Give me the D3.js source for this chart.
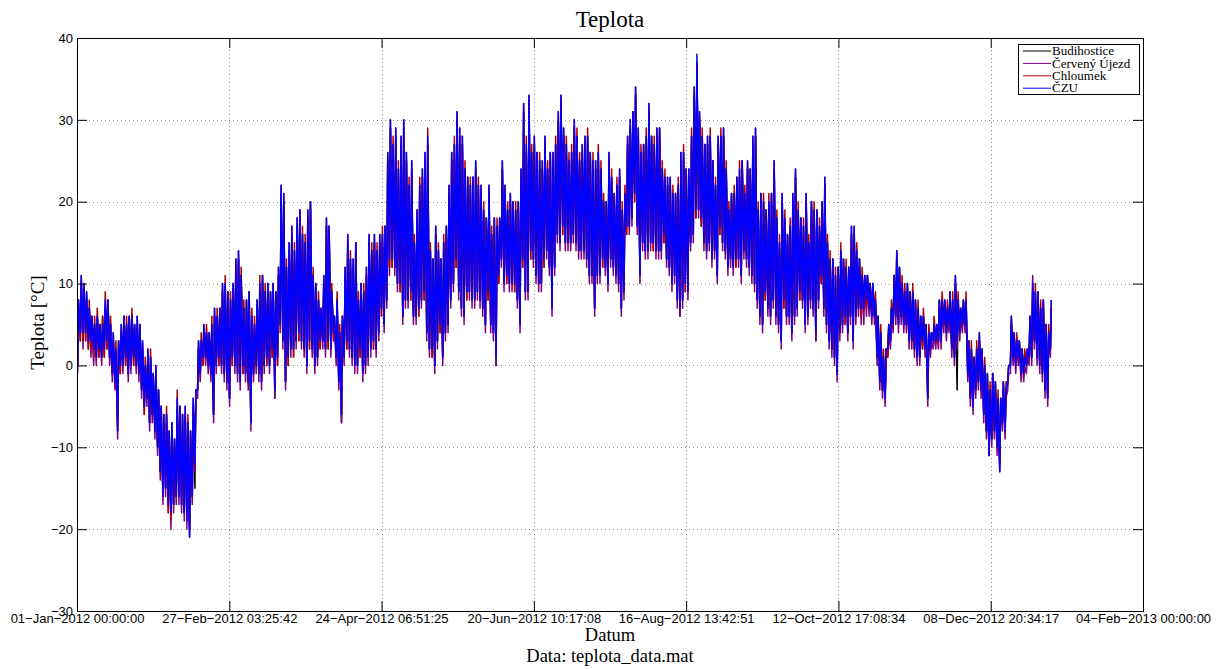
<!DOCTYPE html>
<html>
<head>
<meta charset="utf-8">
<script src="https://cdn.jsdelivr.net/npm/d3@7"></script>
<style>
body { margin: 0; background: #fff; }
svg { display: block; }
</style>
</head>
<body>
<svg></svg>
<script>
var width = 1219, height = 669;
var margin = { top: 38, right: 76, bottom: 58, left: 77 };
var innerWidth = width - margin.left - margin.right;
var innerHeight = height - margin.top - margin.bottom;

var stations = ['Budihostice', 'Červený Újezd', 'Chloumek', 'ČZU'];
var colors = ['#000000', '#7f007f', '#b00000', '#0000ff'];

var xTickLabels = ['01-Jan-2012 00:00:00', '27-Feb-2012 03:25:42', '24-Apr-2012 06:51:25',
  '20-Jun-2012 10:17:08', '16-Aug-2012 13:42:51', '12-Oct-2012 17:08:34',
  '08-Dec-2012 20:34:17', '04-Feb-2013 00:00:00'];
var yTicks = [-30, -20, -10, 0, 10, 20, 30, 40];

// daily max / min, day 0 = 1 Jan 2012
var budMax = [7,10,9,8,7,6,5,6,5,6, 7,8,5,3,2,3,4,6,5,6, 6,5,5,5,2,0,1,1,-1,-1,
  -3,-5,-7,-6,-8,-8,-9,-5,-5,-6, -6,-7,-8,-5,-3,2,3,4,4,4, 5,6,6,7,9,10,9,8,10,12,
  13,11,7,8,9,6,5,8,9,11, 9,10,9,10,9,11,21,20,12,14, 16,14,17,19,16,15,18,20,11,10,
  8,7,10,17,17,9,6,8,4,6, 11,15,13,12,15,8,10,9,11,15, 14,15,14,15,16,17,25,29,27,28,
  24,27,29,25,22,24,15,18,22,23, 25,27,14,13,16,14,13,15,17,21, 25,27,30,28,27,24,23,22,23,24,
  22,21,19,18,21,16,18,17,18,24, 21,19,20,20,19,20,23,31,26,32, 26,27,26,25,24,27,24,26,25,27,
  30,32,28,27,25,26,29,28,25,26, 27,28,26,25,24,26,24,20,20,25, 23,21,22,23,19,21,27,29,31,33,
  28,26,27,28,31,28,27,28,29,24, 23,22,22,21,21,22,25,26,24,23, 28,33,36,30,28,27,27,28,25,22,
  27,28,28,24,19,21,21,23,23,25, 21,24,24,27,28,19,21,20,19,20, 21,24,18,15,20,18,16,17,20,23,
  19,18,17,20,15,20,19,19,17,20, 22,15,13,13,11,12,14,13,12,12, 16,16,14,13,11,11,11,10,10,8,
  6,4,1,2,5,7,11,13,12,10, 9,10,9,9,8,7,6,6,5,4, 4,5,5,8,8,8,7,9,8,10,
  8,7,8,8,3,2,1,2,3,2, 0,-1,-3,-1,-2,-4,-4,-2,-3,0, 5,4,3,3,2,1,2,6,9,9, 9,7,8,5,4,7];
var budMin = [0,4,3,4,3,3,2,1,2,1, 2,3,1,-1,-2,-7,0,0,1,-1, 0,1,0,-1,-3,-5,-4,-7,-6,-8,
  -10,-13,-16,-15,-17,-18,-17,-16,-16,-17, -18,-19,-20,-16,-15,-3,-1,1,1,0, -1,-6,0,1,0,-1,-2,-4,1,0,
  -1,-2,0,-1,-2,-7,-1,0,-1,-2, 0,1,0,2,-4,1,5,3,-2,1, 2,2,3,4,3,2,0,3,2,0,
  1,3,3,2,3,2,4,1,-2,-7, 1,3,2,1,0,0,2,-1,0,1, 2,3,2,4,7,5,8,12,13,12,
  10,10,6,8,8,9,6,6,7,8, 9,4,2,2,0,3,5,1,4,5, 8,10,13,9,7,6,9,9,8,8,
  9,8,7,5,9,5,4,0,11,13, 10,11,10,10,10,8,5,13,9,9, 14,13,11,10,10,13,14,12,7,12,
  16,15,17,15,15,15,16,15,14,14, 14,13,11,11,7,11,11,13,12,10, 13,12,11,10,7,9,17,17,18,21,
  17,11,15,14,14,15,15,14,14,14, 16,13,12,10,11,8,6,8,10,9, 15,16,19,19,18,15,14,15,13,14,
  11,17,15,14,12,13,12,13,13,11, 14,13,12,11,10,8,6,5,9,7, 6,8,6,5,3,8,6,6,4,6,
  7,9,8,5,6,8,7,3,8,11, 7,5,3,2,1,-1,4,5,6,4, 6,3,6,7,7,7,8,7,6,6,
  1,-2,-3,-4,2,3,5,6,5,6, 5,5,3,3,2,1,1,3,2,-4, 2,3,3,3,3,5,4,5,2,1,
  -3,4,5,5,-1,-4,-5,-3,-2,-3, -6,-8,-11,-9,-8,-10,-12,-7,-8,-2, 0,1,0,1,-1,-1,0,1,1,3, 1,0,-1,-3,-4,2];

var cuMax = [7,10,9,8,6,5,4,5,5,4, 7,7,4,3,1,2,4,5,4,5, 5,4,5,4,2,-1,1,0,-2,-1,
  -4,-6,-7,-7,-9,-8,-10,-5,-6,-7, -6,-8,-9,-5,-4,2,2,4,3,3, 4,6,5,6,9,9,8,7,9,12,
  13,10,6,7,8,5,4,7,9,10, 8,9,8,9,8,11,21,20,11,14, 16,13,17,18,15,14,18,19,10,9,
  7,6,10,17,16,8,5,7,3,5, 11,15,12,12,14,7,9,8,11,15, 13,15,13,15,15,16,25,29,26,28,
  23,27,29,25,21,24,14,18,21,23, 25,27,13,12,16,13,12,14,16,21, 25,26,30,28,27,23,22,21,22,24,
  21,21,18,17,21,15,17,16,17,24, 21,18,20,19,18,19,23,31,26,32, 25,27,25,24,24,27,23,25,25,26,
  30,32,28,26,24,25,29,27,24,26, 27,27,25,24,24,25,23,19,19,25, 22,20,21,23,18,20,27,29,30,33,
  28,25,26,27,31,27,26,28,28,23, 22,22,22,20,20,21,25,25,23,23, 27,33,37,30,27,26,27,27,24,21,
  27,27,28,23,18,20,20,22,23,24, 20,24,23,27,28,18,20,19,18,19, 20,24,17,14,20,17,15,16,20,23,
  18,17,16,20,14,19,18,18,16,19, 22,14,12,12,10,11,13,12,11,11, 16,16,13,12,10,10,10,9,9,7,
  5,3,0,1,4,6,10,13,11,9, 8,9,8,8,7,6,5,5,4,3, 3,4,4,7,7,7,6,8,7,10,
  7,6,7,7,2,1,0,1,3,1, -1,-2,-4,-2,-3,-5,-5,-3,-4,-1, 5,3,2,2,1,0,1,5,11,8, 8,6,7,4,3,7];
var cuMin = [-1,3,2,3,2,1,0,0,1,0, 1,2,0,-2,-3,-9,-1,-1,0,-2, -1,0,-1,-2,-4,-6,-5,-8,-7,-9,
  -11,-14,-17,-16,-18,-20,-18,-17,-17,-18, -19,-20,-21,-17,-13,-4,-2,0,0,-1, -2,-7,-1,0,-1,-2,-3,-5,0,-1,
  -2,-3,-1,-2,-3,-8,-2,-1,-2,-3, -1,0,-1,1,-4,0,4,2,-3,0, 1,1,2,3,2,1,-1,2,1,-1,
  0,2,2,1,2,1,3,0,-3,-7, 0,2,1,0,-1,-1,1,-2,-1,0, 1,2,1,3,6,4,7,11,12,11,
  9,9,5,7,7,8,5,5,6,7, 8,3,1,1,-1,2,4,0,3,4, 7,9,12,8,6,5,8,8,7,7,
  8,7,6,4,8,4,3,0,10,12, 9,10,9,9,9,7,4,12,8,8, 13,12,10,9,9,12,13,11,6,11,
  15,14,16,14,14,14,15,14,13,13, 13,12,10,10,6,10,10,12,11,9, 12,11,10,9,6,8,16,16,17,20,
  16,10,14,13,13,14,14,13,13,13, 15,12,11,9,10,7,6,7,9,8, 14,15,18,18,17,14,13,14,12,13,
  10,16,14,13,11,12,11,12,12,10, 13,12,11,10,9,7,5,4,8,6, 5,7,5,4,2,7,5,5,3,5,
  6,8,7,4,5,7,6,3,7,10, 6,4,2,1,0,-2,3,4,5,3, 5,2,5,6,5,5,6,6,5,5,
  0,-3,-4,-5,1,2,4,5,4,5, 4,4,2,2,1,0,0,2,1,-5, 1,2,2,2,2,4,3,4,1,0,
  2,3,4,4,-2,-5,-6,-4,-3,-4, -7,-9,-11,-10,-9,-11,-13,-8,-9,-3, -1,0,-1,0,-2,-2,-1,0,0,2, 0,-1,-2,-4,-5,1];

var chlMax = [8,11,10,9,8,6,6,7,5,6, 9,8,6,4,3,3,5,6,6,6, 7,5,6,5,3,1,2,2,-1,0,
  -3,-5,-6,-5,-8,-7,-9,-3,-5,-6, -5,-6,-8,-4,-3,3,4,5,5,4, 6,7,7,7,10,11,9,9,10,13,
  14,12,8,8,9,7,6,8,11,11, 10,10,9,10,9,12,22,21,13,15, 17,15,18,19,17,16,19,20,12,10,
  9,7,11,18,17,10,6,9,5,6, 12,16,14,13,15,9,10,10,12,16, 15,16,15,16,17,17,26,30,28,29,
  25,28,30,26,23,25,16,19,23,24, 26,29,15,13,17,15,13,16,17,22, 26,28,31,29,28,25,23,23,23,25,
  23,22,20,18,22,17,18,18,18,25, 22,20,21,20,20,20,24,32,28,33, 27,28,26,26,25,28,25,26,26,28,
  31,33,29,28,26,27,30,29,26,27, 28,29,26,26,25,27,25,21,20,26, 24,21,23,24,20,22,28,30,31,34,
  29,27,27,29,32,28,28,29,29,25, 24,23,23,22,21,23,26,27,24,24, 29,34,37,31,29,27,28,29,25,23,
  28,29,29,25,20,21,22,23,25,25, 22,25,24,28,29,20,21,21,19,21, 21,25,19,16,21,19,16,18,21,24,
  20,18,18,21,16,20,20,19,18,20, 23,16,14,13,12,12,15,13,13,12, 17,17,15,13,12,11,11,10,10,9,
  6,5,2,2,5,8,11,14,12,11, 10,10,9,10,8,8,6,7,5,5, 4,6,5,8,9,8,8,9,9,11,
  9,7,8,9,3,3,1,3,4,2, 1,-1,-2,-1,-2,-3,-4,-2,-2,0, 6,4,4,3,2,2,2,6,10,10, 9,8,8,5,5,8];
var chlMin = [0,3,3,3,2,2,1,1,1,1, 1,2,1,-1,-2,-8,-1,0,0,-1, 0,0,0,-1,-3,-6,-4,-7,-6,-8,
  -10,-13,-16,-15,-18,-19,-17,-16,-16,-17, -18,-19,-20,-16,-12,-3,-1,0,1,0, -1,-6,0,0,0,-1,-2,-4,0,0,
  -1,-2,-1,-1,-2,-7,-1,0,-1,-2, 0,0,0,1,-3,0,5,3,-2,0, 2,1,3,3,3,2,0,2,2,0,
  1,2,3,2,2,2,3,1,-2,-6, 1,2,2,1,0,0,1,-1,0,1, 2,2,2,4,6,5,8,12,12,12,
  10,9,6,8,8,8,6,6,6,8, 8,4,2,1,0,3,4,1,4,5, 8,10,12,9,7,6,8,9,8,8,
  9,8,7,5,8,5,4,1,10,13, 10,10,10,10,9,8,5,12,9,9, 13,13,11,10,10,12,14,12,7,12,
  16,15,16,15,15,15,16,15,14,14, 14,13,11,11,7,11,11,12,12,10, 13,12,11,10,7,9,16,17,18,20,
  17,11,15,14,14,15,14,14,14,14, 15,13,12,10,11,8,7,8,9,9, 15,16,18,19,17,15,14,15,13,14,
  11,16,15,14,12,13,12,12,13,11, 14,13,12,11,10,8,6,5,8,7, 6,8,6,5,3,7,6,6,4,6,
  7,8,8,5,6,8,7,4,8,10, 7,5,3,2,1,-1,4,5,5,4, 6,3,6,7,6,7,7,7,6,6,
  1,-2,-3,-4,1,3,5,6,5,6, 5,5,3,3,2,1,1,2,2,-4, 2,3,3,3,3,5,4,5,2,1,
  3,4,5,5,-1,-4,-5,-3,-2,-3, -6,-8,-11,-9,-8,-10,-12,-7,-8,-2, 0,1,0,1,-1,-1,0,1,1,3, 1,0,-1,-3,-4,2];

var czuMax = [8,11,10,9,7,6,5,6,5,5, 8,8,5,4,2,3,5,6,5,6, 6,5,6,5,3,0,2,1,-1,0,
  -3,-5,-6,-6,-8,-7,-9,-4,-5,-6, -5,-7,-8,-4,-3,3,3,5,4,4, 5,7,6,7,10,10,9,8,10,13,
  14,11,7,8,9,6,5,8,10,11, 9,10,9,10,9,12,22,21,12,15, 17,14,18,19,16,15,19,20,11,10,
  8,7,11,18,17,9,6,8,4,6, 12,16,13,13,15,8,10,9,12,16, 14,16,14,16,16,17,26,30,27,29,
  24,28,30,26,22,25,15,19,22,24, 26,28,14,13,17,14,13,15,17,22, 26,27,31,29,28,24,23,22,23,25,
  22,22,19,18,22,16,18,17,18,25, 22,19,21,20,19,20,24,32,27,33, 26,28,26,25,25,28,24,26,26,27,
  31,33,29,27,25,26,30,28,25,27, 28,28,26,25,25,26,24,20,20,26, 23,21,22,24,19,21,28,30,31,34,
  29,26,27,28,32,28,27,29,29,24, 23,23,23,21,21,22,26,26,24,24, 28,34,38,31,28,27,28,28,25,22,
  28,28,29,24,19,21,21,23,24,25, 21,25,24,28,29,19,21,20,19,20, 21,25,18,15,21,18,16,17,21,24,
  19,18,17,21,15,20,19,19,17,20, 23,15,13,13,11,12,14,13,12,12, 17,17,14,13,11,11,11,10,10,8,
  6,4,1,2,5,7,11,14,12,10, 9,10,9,9,8,7,6,6,5,4, 4,5,5,8,8,8,7,9,8,11,
  8,7,8,8,3,2,1,2,4,2, 0,-1,-3,-1,-2,-4,-4,-2,-3,0, 6,4,3,3,2,1,2,6,10,9, 9,7,8,5,4,8];
var czuMin = [0,4,4,4,3,3,2,1,2,1, 2,3,1,-1,-2,-8,0,0,1,-1, 0,1,0,-1,-3,-5,-4,-7,-6,-8,
  -10,-13,-16,-15,-17,-18,-17,-16,-16,-17, -18,-19,-21,-16,-12,-3,-1,1,1,0, -1,-6,0,1,0,-1,-2,-4,1,0,
  -1,-2,0,-1,-2,-7,-1,0,-1,-2, 0,1,0,2,-3,1,5,3,-2,1, 2,2,3,4,3,2,0,3,2,0,
  1,3,3,2,3,2,4,1,-2,-6, 1,3,2,1,0,0,2,-1,0,1, 2,3,2,4,7,5,8,13,13,12,
  10,10,6,8,8,9,6,6,7,8, 9,4,2,2,0,3,5,1,4,5, 8,10,13,9,7,6,9,9,8,8,
  9,8,7,5,9,5,4,1,11,13, 10,11,10,10,10,8,5,13,9,9, 14,13,11,10,10,13,14,12,7,12,
  16,15,17,15,15,15,16,15,14,14, 14,13,11,11,7,11,11,13,12,10, 13,12,11,10,7,9,17,17,18,21,
  17,11,15,14,14,15,15,14,14,14, 16,13,12,10,11,8,7,8,10,9, 15,16,19,19,18,15,14,15,13,14,
  11,17,15,14,12,13,12,13,13,11, 14,13,12,11,10,8,6,5,9,7, 6,8,6,5,3,8,6,6,4,6,
  7,9,8,5,6,8,7,4,8,11, 7,5,3,2,1,-1,4,5,6,4, 6,3,6,7,7,7,8,7,6,6,
  1,-2,-3,-4,2,3,5,6,5,6, 5,5,3,3,2,1,1,3,2,-4, 2,3,3,3,3,5,4,5,2,1,
  3,4,5,5,-1,-4,-5,-3,-2,-3, -6,-8,-11,-9,-8,-10,-13,-7,-8,-2, 0,1,0,1,-1,-1,0,1,1,3, 1,0,-1,-3,-4,2];

var seriesMax = [budMax, cuMax, chlMax, czuMax];
var seriesMin = [budMin, cuMin, chlMin, czuMin];

var DAY = 864e5;
var t0 = Date.UTC(2012, 0, 1);
var parseTick = d3.utcParse('%d-%b-%Y %H:%M:%S');
var tickDates = xTickLabels.map(parseTick);

// min around 6:00, max around 14:00 each day
var series = stations.map(function (name, i) {
  var pts = [];
  seriesMin[i].forEach(function (v, d) {
    pts.push({ t: new Date(t0 + (d + 0.25) * DAY), v: v });
    pts.push({ t: new Date(t0 + (d + 0.6) * DAY), v: seriesMax[i][d] });
  });
  return { name: name, color: colors[i], values: pts };
});

var svg = d3.select('svg')
  .attr('width', width)
  .attr('height', height);

var x = d3.scaleUtc()
  .domain([tickDates[0], tickDates[tickDates.length - 1]])
  .range([0, innerWidth]);
var y = d3.scaleLinear()
  .domain([-30, 40])
  .range([innerHeight, 0]);

var serif = '"Liberation Serif", serif';

svg.append('text')
  .attr('x', margin.left + innerWidth / 2)
  .attr('y', 27)
  .attr('text-anchor', 'middle')
  .style('font', '23px ' + serif)
  .text('Teplota');

var g = svg.append('g')
  .attr('transform', `translate(${margin.left},${margin.top})`);

g.append('clipPath').attr('id', 'clip')
  .append('rect').attr('width', innerWidth).attr('height', innerHeight);

// grid
var grid = g.append('g')
  .attr('stroke', '#8c8c8c')
  .attr('stroke-width', 1)
  .attr('stroke-dasharray', '1,3');
grid.selectAll('.gx').data(tickDates.slice(1, -1))
  .enter().append('line')
    .attr('x1', d => Math.round(x(d)) + 0.5)
    .attr('x2', d => Math.round(x(d)) + 0.5)
    .attr('y1', 0)
    .attr('y2', innerHeight);
grid.selectAll('.gy').data(yTicks.slice(1, -1))
  .enter().append('line')
    .attr('y1', d => Math.round(y(d)) + 0.5)
    .attr('y2', d => Math.round(y(d)) + 0.5)
    .attr('x1', 0)
    .attr('x2', innerWidth);

var line = d3.line()
  .x(d => x(d.t))
  .y(d => y(d.v));

g.append('g').attr('clip-path', 'url(#clip)')
  .selectAll('path').data(series)
  .enter().append('path')
    .attr('fill', 'none')
    .attr('stroke', d => d.color)
    .attr('stroke-width', 1.5)
    .attr('stroke-linejoin', 'round')
    .attr('d', d => line(d.values));

var fmtY = d => d < 0 ? '\u2212' + (-d) : String(d);
var fmtX = (d, i) => xTickLabels[i].replace(/-/g, '\u2212');

var axisFont = '13px "Liberation Sans", Arial, sans-serif';

g.append('g')
  .attr('transform', `translate(0,${innerHeight})`)
  .call(d3.axisBottom(x).tickValues(tickDates).tickFormat(fmtX)
    .tickSizeInner(-10).tickSizeOuter(0).tickPadding(3));
g.append('g')
  .call(d3.axisTop(x).tickValues(tickDates).tickFormat('')
    .tickSizeInner(-10).tickSizeOuter(0));
g.append('g')
  .call(d3.axisLeft(y).tickValues(yTicks).tickFormat(fmtY)
    .tickSizeInner(-10).tickSizeOuter(0).tickPadding(4));
g.append('g')
  .attr('transform', `translate(${innerWidth},0)`)
  .call(d3.axisRight(y).tickValues(yTicks).tickFormat('')
    .tickSizeInner(-10).tickSizeOuter(0));

g.selectAll('.domain').remove();
g.selectAll('.tick text').style('font', axisFont).attr('fill', '#000');
g.selectAll('.tick line').attr('stroke', '#000');

g.append('rect')
  .attr('x', 0.5).attr('y', 0.5)
  .attr('width', innerWidth).attr('height', innerHeight)
  .attr('fill', 'none')
  .attr('stroke', '#000');

// labels
svg.append('text')
  .attr('x', margin.left + innerWidth / 2)
  .attr('y', 641)
  .attr('text-anchor', 'middle')
  .style('font', '18.5px ' + serif)
  .text('Datum');
svg.append('text')
  .attr('x', margin.left + innerWidth / 2)
  .attr('y', 662)
  .attr('text-anchor', 'middle')
  .style('font', '18.5px ' + serif)
  .text('Data: teplota_data.mat');
svg.append('text')
  .attr('transform', `translate(44,${margin.top + innerHeight / 2 - 2}) rotate(-90)`)
  .attr('text-anchor', 'middle')
  .style('font', '19px ' + serif)
  .text('Teplota [°C]');

// legend
var lg = svg.append('g').attr('transform', 'translate(1018,44)');
lg.append('rect')
  .attr('x', 0.5).attr('y', 0.5)
  .attr('width', 121).attr('height', 50)
  .attr('fill', '#fff')
  .attr('stroke', '#000');
var item = lg.selectAll('.item').data(series)
  .enter().append('g')
    .attr('transform', (d, i) => `translate(0,${7 + i * 12.4})`);
item.append('line')
  .attr('x1', 5).attr('x2', 33)
  .attr('stroke', d => d.color)
  .attr('stroke-width', 1);
item.append('text')
  .attr('x', 34)
  .attr('dy', '0.33em')
  .style('font', '13px ' + serif)
  .text(d => d.name);
</script>
</body>
</html>
